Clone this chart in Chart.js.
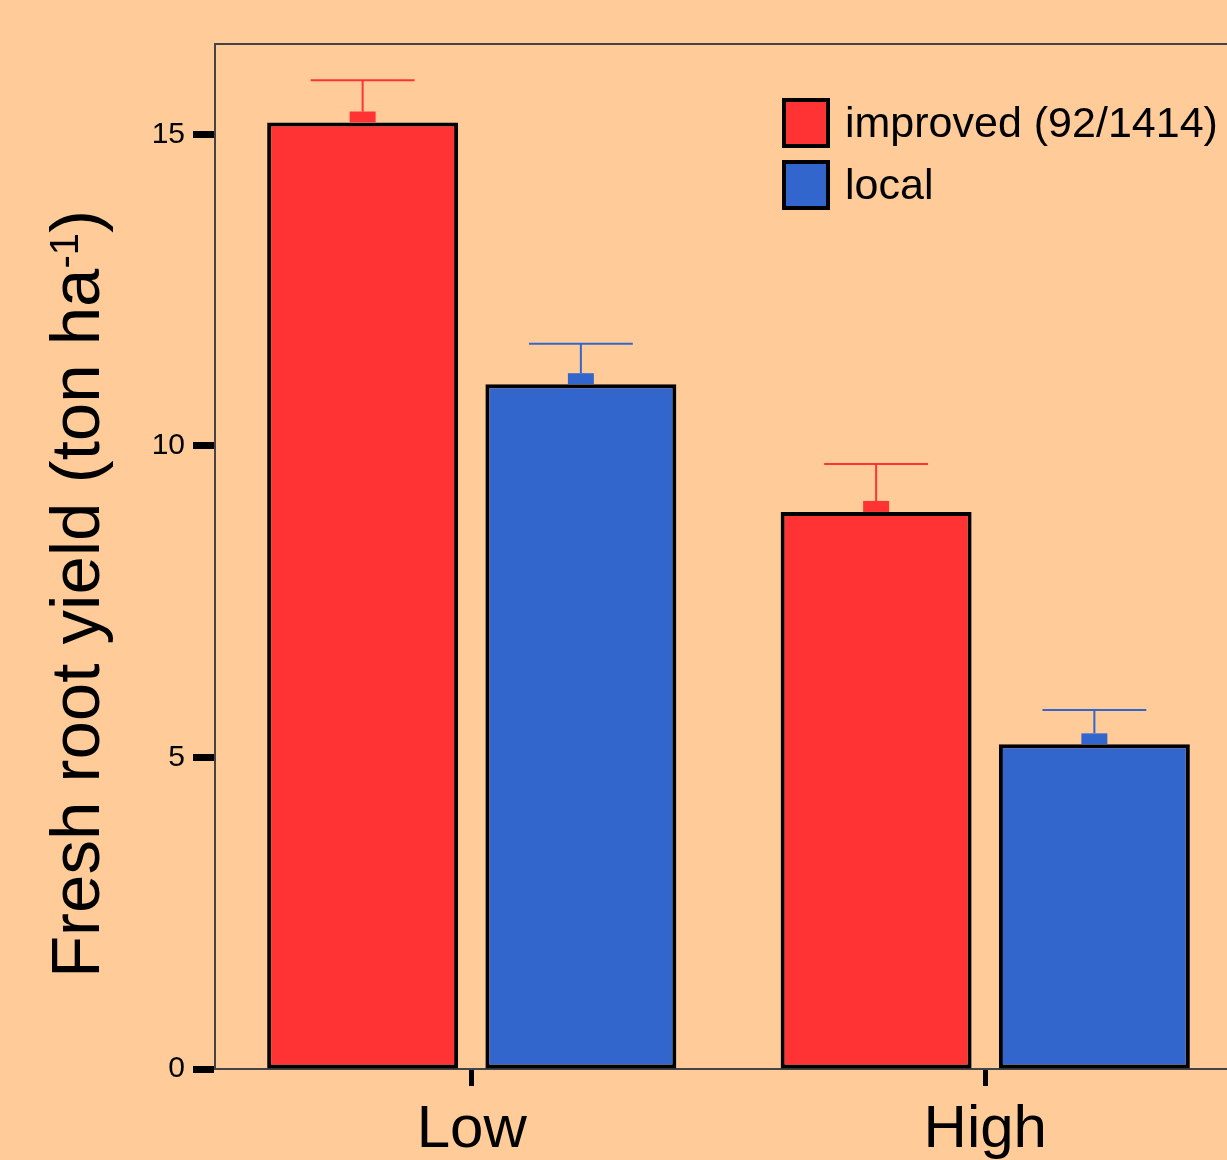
<!DOCTYPE html>
<html lang="en">
<head>
    <meta charset="UTF-8">
    <title>Fresh root yield</title>
    <script src="https://cdn.jsdelivr.net/npm/chart.js"></script>
    <style>
        body {
            margin: 0;
            background: #FFCC99;
            overflow: hidden;
        }
        #wrap {
            width: 1242px;
            height: 1160px;
        }
    </style>
</head>
<body>
    <div id="wrap">
        <canvas id="yieldChart" width="1242" height="1160"></canvas>
    </div>

    <script>
        // data
        let categories = ['Low', 'High'];
        let improved = [15.19, 8.94];
        let improvedErr = [15.87, 9.71];
        let local = [10.99, 5.21];
        let localErr = [11.64, 5.76];
        let yTicks = [0, 5, 10, 15];

        const FONT = "'Liberation Sans', Arial, sans-serif";
        const RED = '#FF3333';
        const BLUE = '#3366CC';

        const background = {
            id: 'background',
            beforeDraw(chart) {
                let c = chart.ctx;
                c.save();
                c.fillStyle = '#FFCC99';
                c.fillRect(0, 0, chart.width, chart.height);
                c.restore();
            }
        };

        // top frame line
        const frame = {
            id: 'frame',
            afterDraw(chart) {
                let c = chart.ctx, a = chart.chartArea;
                c.save();
                c.strokeStyle = '#444';
                c.lineWidth = 2;
                c.beginPath();
                c.moveTo(a.left - 1, a.top);
                c.lineTo(a.right, a.top);
                c.stroke();
                c.restore();
            }
        };

        const errorBars = {
            id: 'errorBars',
            afterDatasetsDraw(chart) {
                let c = chart.ctx;
                let yScale = chart.scales.y;
                chart.data.datasets.forEach((ds, di) => {
                    let meta = chart.getDatasetMeta(di);
                    meta.data.forEach((bar, i) => {
                        let top = yScale.getPixelForValue(ds.errHigh[i]);
                        let w = bar.width;
                        c.save();
                        c.fillStyle = ds.backgroundColor;
                        c.strokeStyle = ds.backgroundColor;
                        c.fillRect(bar.x - w * 0.068, bar.y - 11, w * 0.136, 11);
                        c.lineWidth = 2;
                        c.beginPath();
                        c.moveTo(bar.x, bar.y - 11);
                        c.lineTo(bar.x, top);
                        c.moveTo(bar.x - w * 0.272, top);
                        c.lineTo(bar.x + w * 0.272, top);
                        c.stroke();
                        c.restore();
                    });
                });
            }
        };

        const legendBox = {
            id: 'legendBox',
            afterDraw(chart) {
                let c = chart.ctx;
                c.save();
                c.font = '43px ' + FONT;
                c.textBaseline = 'alphabetic';
                chart.data.datasets.forEach((ds, i) => {
                    let y = 98 + i * 62;
                    c.fillStyle = ds.backgroundColor;
                    c.fillRect(784, y + 2, 44, 46);
                    c.strokeStyle = '#000';
                    c.lineWidth = 4;
                    c.strokeRect(784, y + 2, 44, 46);
                    c.fillStyle = '#000';
                    c.fillText(ds.label, 845, y + 39);
                });
                c.restore();
            }
        };

        const yTitle = {
            id: 'yTitle',
            afterDraw(chart) {
                let c = chart.ctx;
                let main = 'Fresh root yield (ton ha';
                let sup = '-1';
                let end = ')';
                c.save();
                c.fillStyle = '#000';
                c.translate(99, 594);
                c.rotate(-Math.PI / 2);
                c.font = '69px ' + FONT;
                let wMain = c.measureText(main).width;
                let wEnd = c.measureText(end).width;
                c.font = '40px ' + FONT;
                let wSup = c.measureText(sup).width;
                let x = -(wMain + wSup + wEnd) / 2;
                c.textBaseline = 'alphabetic';
                c.font = '69px ' + FONT;
                c.fillText(main, x, 0);
                c.font = '40px ' + FONT;
                c.fillText(sup, x + wMain, -21);
                c.font = '69px ' + FONT;
                c.fillText(end, x + wMain + wSup, 0);
                c.restore();
            }
        };

        let ctx = document.getElementById('yieldChart').getContext('2d');
        let yieldChart = new Chart(ctx, {
            type: 'bar',
            data: {
                labels: categories,
                datasets: [{
                    label: 'improved (92/1414)',
                    data: improved,
                    errHigh: improvedErr,
                    backgroundColor: RED,
                    borderColor: '#000',
                    borderWidth: 4,
                    borderSkipped: false
                }, {
                    label: 'local',
                    data: local,
                    errHigh: localErr,
                    backgroundColor: BLUE,
                    borderColor: '#000',
                    borderWidth: 4,
                    borderSkipped: false
                }]
            },
            options: {
                responsive: false,
                animation: false,
                barPercentage: 0.875,
                categoryPercentage: 0.85,
                layout: {
                    padding: { top: 44, left: 0, right: 0, bottom: 0 }
                },
                plugins: {
                    legend: { display: false },
                    tooltip: { enabled: false }
                },
                scales: {
                    x: {
                        afterFit: s => { s.height = 91; },
                        grid: {
                            offset: false,
                            drawOnChartArea: false,
                            drawTicks: true,
                            tickLength: 17,
                            tickWidth: 5,
                            tickColor: '#000'
                        },
                        border: { color: '#444', width: 2 },
                        ticks: {
                            color: '#000',
                            padding: 8,
                            font: { family: FONT, size: 60 }
                        }
                    },
                    y: {
                        min: 0,
                        max: 16.45,
                        afterFit: s => { s.width = 215; },
                        afterBuildTicks: s => { s.ticks = yTicks.map(v => ({ value: v })); },
                        grid: {
                            drawOnChartArea: false,
                            drawTicks: true,
                            tickLength: 22,
                            tickWidth: 7,
                            tickColor: '#000'
                        },
                        border: { color: '#444', width: 2 },
                        ticks: {
                            color: '#000',
                            padding: 8,
                            font: { family: FONT, size: 30 }
                        }
                    }
                }
            },
            plugins: [background, frame, errorBars, legendBox, yTitle]
        });
    </script>
</body>
</html>
